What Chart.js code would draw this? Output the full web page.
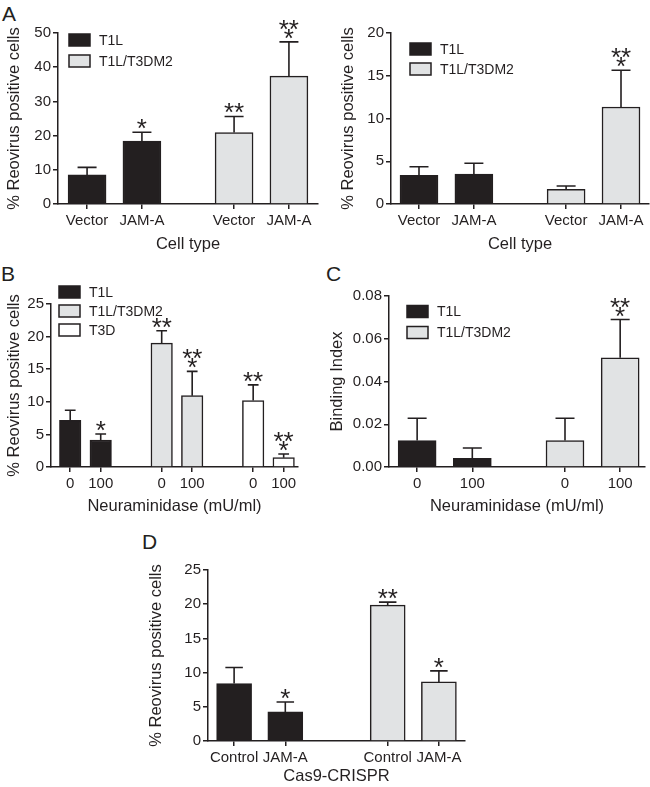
<!DOCTYPE html>
<html>
<head>
<meta charset="utf-8">
<script src="https://cdn.jsdelivr.net/npm/chart.js@4.4.1/dist/chart.umd.min.js"></script>
<style>
  body { margin: 0; background: #fff; font-family: "Liberation Sans", Arial, sans-serif; }
  #page { position: relative; width: 650px; height: 787px; overflow: hidden; }
  canvas { position: absolute; }
  .letter { position: absolute; font-size: 21px; line-height: 1; color: #231f20; }
</style>
</head>
<body>
<div id="page">
  <div class="letter" style="left:2px;top:3px">A</div>
  <div class="letter" style="left:1px;top:263px">B</div>
  <div class="letter" style="left:326px;top:263px">C</div>
  <div class="letter" style="left:142px;top:531px">D</div>
  <canvas id="a1" style="left:5px;top:0px" width="320" height="255"></canvas>
  <canvas id="a2" style="left:339px;top:0px" width="311" height="255"></canvas>
  <canvas id="b" style="left:5px;top:255px" width="320" height="265"></canvas>
  <canvas id="c" style="left:328px;top:255px" width="322" height="265"></canvas>
  <canvas id="d" style="left:147px;top:520px" width="330" height="267"></canvas>
</div>
<script>
// ---- data ----
const seriesNames = ["T1L", "T1L/T3DM2", "T3D"];

// A, left: % reovirus positive cells
const aLabels = ["Vector", "JAM-A", "Vector", "JAM-A"];
const aSeries = [0, 0, 1, 1];
const a1Values = [8.5, 18.4, 20.9, 37.4];
const a1Errors = [2.2, 2.6, 4.7, 10.0];
const a1Stars = ["", "*", "**", "***"];
const a1Ticks = [0, 10, 20, 30, 40, 50];

// A, right
const a2Values = [3.35, 3.5, 1.72, 11.35];
const a2Errors = [1.0, 1.26, 0.38, 4.3];
const a2Stars = ["", "", "", "***"];
const a2Ticks = [0, 5, 10, 15, 20];

// B: neuraminidase, % positive
const bLabels = ["0", "100", "0", "100", "0", "100"];
const bSeries = [0, 0, 1, 1, 2, 2];
const bValues = [7.16, 4.14, 19.0, 10.94, 10.2, 1.43];
const bErrors = [1.54, 0.92, 1.9, 3.73, 2.4, 0.57];
const bStars = ["", "*", "**", "***", "**", "***"];
const bTicks = [0, 5, 10, 15, 20, 25];

// C: neuraminidase, binding index
const cLabels = ["0", "100", "0", "100"];
const cSeries = [0, 0, 1, 1];
const cValues = [0.0124, 0.004, 0.0124, 0.0511];
const cErrors = [0.0104, 0.0049, 0.0104, 0.0179];
const cStars = ["", "", "", "***"];
const cTicks = [0, 0.02, 0.04, 0.06, 0.08];

// D: Cas9-CRISPR
const dLabels = ["Control", "JAM-A", "Control", "JAM-A"];
const dSeries = [0, 0, 1, 1];
const dValues = [8.4, 4.25, 19.87, 8.64];
const dErrors = [2.34, 1.45, 0.43, 1.61];
const dStars = ["", "*", "**", "*"];
const dTicks = [0, 5, 10, 15, 20, 25];

// ---- styles ----
const ink = "#231f20";
const fills = ["#231f20", "#e1e3e4", "#ffffff"];
const fontFamily = "'Liberation Sans', Arial, sans-serif";
Chart.defaults.font.family = fontFamily;
Chart.defaults.color = ink;

// error bars, asterisks and the little legend
const decor = {
  id: "decor",
  afterDatasetsDraw(chart, args, opts) {
    const ctx = chart.ctx;
    const yScale = chart.scales.y;
    ctx.save();
    ctx.strokeStyle = ink;
    ctx.fillStyle = ink;
    ctx.lineWidth = 1.6;
    ctx.font = "26px " + fontFamily;
    ctx.textAlign = "center";
    let m = ctx.measureText("*");
    let mid = (m.actualBoundingBoxAscent - m.actualBoundingBoxDescent) / 2;

    chart.data.datasets.forEach((ds, di) => {
      chart.getDatasetMeta(di).data.forEach((bar, j) => {
        let top = yScale.getPixelForValue(ds.data[j].y + ds.errors[j]);
        let half = bar.width / 4;
        ctx.beginPath();
        ctx.moveTo(bar.x, bar.y);
        ctx.lineTo(bar.x, top);
        ctx.moveTo(bar.x - half, top);
        ctx.lineTo(bar.x + half, top);
        ctx.stroke();

        let s = ds.stars[j];
        if (!s) return;
        let rows = (s == "***") ? ["*", "**"] : [s];
        rows.forEach((row, k) => {
          let cy = top - 8 - k * 9;
          for (let n = 0; n < row.length; n++) {
            let cx = bar.x + (n - (row.length - 1) / 2) * 10;
            ctx.fillText("*", cx, cy + mid);
          }
        });
      });
    });
    ctx.restore();
  },
  afterDraw(chart, args, opts) {
    if (!opts.legend) return;
    const ctx = chart.ctx;
    const area = chart.chartArea;
    ctx.save();
    ctx.font = "14px " + fontFamily;
    ctx.textBaseline = "middle";
    ctx.lineWidth = 1.5;
    chart.data.datasets.forEach((ds, i) => {
      let x = area.left + opts.x;
      let y = area.top + opts.y + i * opts.gap;
      ctx.fillStyle = ds.backgroundColor;
      ctx.fillRect(x, y - 6, 21, 12);
      ctx.strokeStyle = ink;
      ctx.strokeRect(x, y - 6, 21, 12);
      ctx.fillStyle = ink;
      ctx.fillText(ds.label, x + 30, y + 1);
    });
    ctx.restore();
  }
};

function drawPanel(id, p) {
  // bar centres: one unit per bar, plus a wider gap between virus groups
  let pos = p.series.map((s, i) => i + s * p.gap);
  let used = [...new Set(p.series)];

  let datasets = used.map(s => {
    let idx = p.series.map((v, i) => v == s ? i : -1).filter(i => i >= 0);
    return {
      label: seriesNames[s],
      data: idx.map(i => ({ x: pos[i], y: p.values[i] })),
      errors: idx.map(i => p.errors[i]),
      stars: idx.map(i => p.stars[i]),
      backgroundColor: fills[s],
      borderColor: ink,
      borderWidth: 1.5,
      barThickness: p.barWidth,
      grouped: false
    };
  });

  let axisGrid = {
    drawOnChartArea: false,
    drawTicks: true,
    tickLength: 5,
    color: ink,
    lineWidth: 1.5
  };

  new Chart(document.getElementById(id), {
    type: "bar",
    data: { datasets: datasets },
    plugins: [decor],
    options: {
      responsive: false,
      animation: false,
      layout: { padding: { top: p.padTop, right: p.padRight, left: 0, bottom: 0 } },
      plugins: {
        legend: { display: false },
        tooltip: { enabled: false },
        decor: p.legend
      },
      scales: {
        x: {
          type: "linear",
          min: p.xMin,
          max: p.xMax,
          offset: false,
          grid: Object.assign({ offset: false }, axisGrid),
          border: { color: ink, width: 1.5 },
          afterBuildTicks: s => { s.ticks = pos.map(v => ({ value: v })); },
          afterFit: s => { s.height = p.xHeight; },
          ticks: {
            autoSkip: false,
            maxRotation: 0,
            minRotation: 0,
            padding: 3,
            font: { size: 15 },
            callback: (v, i) => p.labels[i]
          },
          title: {
            display: true,
            text: p.xTitle,
            font: { size: 16.5 },
            padding: { top: 0, bottom: p.xTitlePad }
          }
        },
        y: {
          min: 0,
          max: p.ticks[p.ticks.length - 1],
          grid: axisGrid,
          border: { color: ink, width: 1.5 },
          afterBuildTicks: s => { s.ticks = p.ticks.map(v => ({ value: v })); },
          afterFit: s => { s.width = p.yWidth; },
          ticks: {
            padding: 2,
            font: { size: 15 },
            callback: v => p.decimals ? v.toFixed(p.decimals) : String(v)
          },
          title: {
            display: true,
            text: p.yTitle,
            font: { size: 16.5 },
            padding: { top: 0, bottom: 0 }
          }
        }
      }
    }
  });
}

const pctTitle = "% Reovirus positive cells";

drawPanel("a1", {
  labels: aLabels, series: aSeries, values: a1Values, errors: a1Errors, stars: a1Stars, ticks: a1Ticks,
  gap: 0.68, xMin: -0.53, xMax: 4.21, barWidth: 38,
  yWidth: 53, xHeight: 51, padTop: 33, padRight: 7, xTitlePad: 0.5,
  xTitle: "Cell type", yTitle: pctTitle,
  legend: { legend: true, x: 11, y: 7, gap: 21 }
});

drawPanel("a2", {
  labels: aLabels, series: aSeries, values: a2Values, errors: a2Errors, stars: a2Stars, ticks: a2Ticks,
  gap: 0.68, xMin: -0.51, xMax: 4.19, barWidth: 38,
  yWidth: 52, xHeight: 51, padTop: 33, padRight: 1, xTitlePad: 0.5,
  xTitle: "Cell type", yTitle: pctTitle,
  legend: { legend: true, x: 19, y: 16, gap: 20 }
});

drawPanel("b", {
  labels: bLabels, series: bSeries, values: bValues, errors: bErrors, stars: bStars, ticks: bTicks,
  gap: 1, xMin: -0.63, xMax: 7.47, barWidth: 21.5,
  yWidth: 46, xHeight: 53, padTop: 49, padRight: 27, xTitlePad: 3.5,
  xTitle: "Neuraminidase (mU/ml)", yTitle: pctTitle,
  legend: { legend: true, x: 8, y: -12, gap: 19 }
});

drawPanel("c", {
  labels: cLabels, series: cSeries, values: cValues, errors: cErrors, stars: cStars, ticks: cTicks,
  gap: 0.68, xMin: -0.51, xMax: 4.13, barWidth: 38, decimals: 2,
  yWidth: 61, xHeight: 53, padTop: 41, padRight: 5, xTitlePad: 3.5,
  xTitle: "Neuraminidase (mU/ml)", yTitle: "Binding Index",
  legend: { legend: true, x: 18, y: 15.5, gap: 21 }
});

drawPanel("d", {
  labels: dLabels, series: dSeries, values: dValues, errors: dErrors, stars: dStars, ticks: dTicks,
  gap: 1, xMin: -0.51, xMax: 4.51, barWidth: 35,
  yWidth: 61, xHeight: 46, padTop: 50, padRight: 12, xTitlePad: 0.5,
  xTitle: "Cas9-CRISPR", yTitle: pctTitle,
  legend: { legend: false }
});
</script>
</body>
</html>
